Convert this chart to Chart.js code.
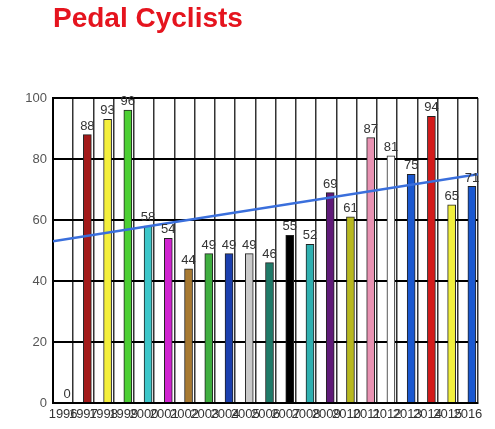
<!doctype html>
<html lang="en">

<head>
    <meta charset="utf-8">
    <title>Pedal Cyclists</title>
    <script src="https://cdn.jsdelivr.net/npm/chart.js"></script>
    <style>
        body { margin: 0; background: #fff; }
        #wrap { width: 495px; height: 429px; }
    </style>
</head>

<body>
    <div id="wrap"><canvas id="cyclists" width="495" height="429"></canvas></div>

    <script>
        // data
        const years = ["1996", "1997", "1998", "1999", "2000", "2001", "2002", "2003", "2004", "2005", "2006",
            "2007", "2008", "2009", "2010", "2011", "2012", "2013", "2014", "2015", "2016"];
        const cyclists = [0, 88, 93, 96, 58, 54, 44, 49, 49, 49, 46, 55, 52, 69, 61, 87, 81, 75, 94, 65, 71];
        const barColors = ["#cccccc", "#a31a1a", "#f4ef3c", "#4ccf33", "#3cc6c9", "#d024d0", "#a87a32", "#3fae3f",
            "#1b3fae", "#c9c9c9", "#1f7a68", "#000000", "#2fb0b0", "#5f1a78", "#b7b81f", "#e892b2", "#ffffff",
            "#1a58d0", "#d31a1a", "#f2f03e", "#1a58d0"];
        const trendEnds = [53, 75];
        const yTicks = [0, 20, 40, 60, 80, 100];

        const plotLeft = 53;
        const fontFam = "'Liberation Sans', Arial, sans-serif";

        const titlePlugin = {
            id: 'titleText',
            afterDraw(chart) {
                const ctx = chart.ctx;
                ctx.save();
                ctx.font = "bold 28px " + fontFam;
                ctx.fillStyle = "#e5141e";
                ctx.textBaseline = "alphabetic";
                ctx.textAlign = "left";
                ctx.fillText("Pedal Cyclists", plotLeft, 27);
                ctx.restore();
            }
        };

        const valueLabels = {
            id: 'valueLabels',
            afterDatasetsDraw(chart) {
                const ctx = chart.ctx;
                const meta = chart.getDatasetMeta(1);
                ctx.save();
                ctx.font = "13px " + fontFam;
                ctx.fillStyle = "#333";
                ctx.textAlign = "center";
                ctx.textBaseline = "bottom";
                meta.data.forEach((bar, i) => {
                    ctx.fillText(String(cyclists[i]), bar.x, bar.y - 2);
                });
                ctx.restore();
            }
        };

        new Chart(document.getElementById('cyclists'), {
            type: 'bar',
            data: {
                labels: years,
                datasets: [{
                    type: 'line',
                    label: 'trend',
                    xAxisID: 'x2',
                    data: [{ x: 0, y: trendEnds[0] }, { x: years.length, y: trendEnds[1] }],
                    borderColor: "#3a6fdc",
                    borderWidth: 2.5,
                    pointRadius: 0,
                    fill: false,
                    order: 0
                }, {
                    label: 'Pedal Cyclists',
                    data: cyclists,
                    backgroundColor: barColors,
                    borderColor: "#222",
                    borderWidth: 1,
                    barThickness: 8,
                    order: 1
                }]
            },
            options: {
                responsive: false,
                animation: false,
                layout: { padding: { top: 98, right: 17, bottom: 4, left: 0 } },
                plugins: {
                    legend: { display: false },
                    tooltip: { enabled: false }
                },
                scales: {
                    x: {
                        grid: { color: "#333", lineWidth: 1.5, drawTicks: false, offset: true },
                        border: { color: "#000", width: 2 },
                        ticks: {
                            autoSkip: false, maxRotation: 0, minRotation: 0, padding: 4,
                            color: "#333", font: { family: fontFam, size: 13 }
                        },
                        afterFit(scale) { scale.height = 22; }
                    },
                    x2: {
                        type: 'linear',
                        display: false,
                        offset: false,
                        min: 0,
                        max: years.length
                    },
                    y: {
                        min: 0,
                        max: 100,
                        afterBuildTicks(scale) { scale.ticks = yTicks.map(v => ({ value: v })); },
                        grid: { color: "#000", lineWidth: 2, drawTicks: false },
                        border: { color: "#000", width: 2 },
                        ticks: {
                            padding: 6, color: "#555",
                            font: { family: fontFam, size: 13 }
                        },
                        afterFit(scale) { scale.width = plotLeft; }
                    }
                }
            },
            plugins: [titlePlugin, valueLabels]
        });
    </script>
</body>

</html>
